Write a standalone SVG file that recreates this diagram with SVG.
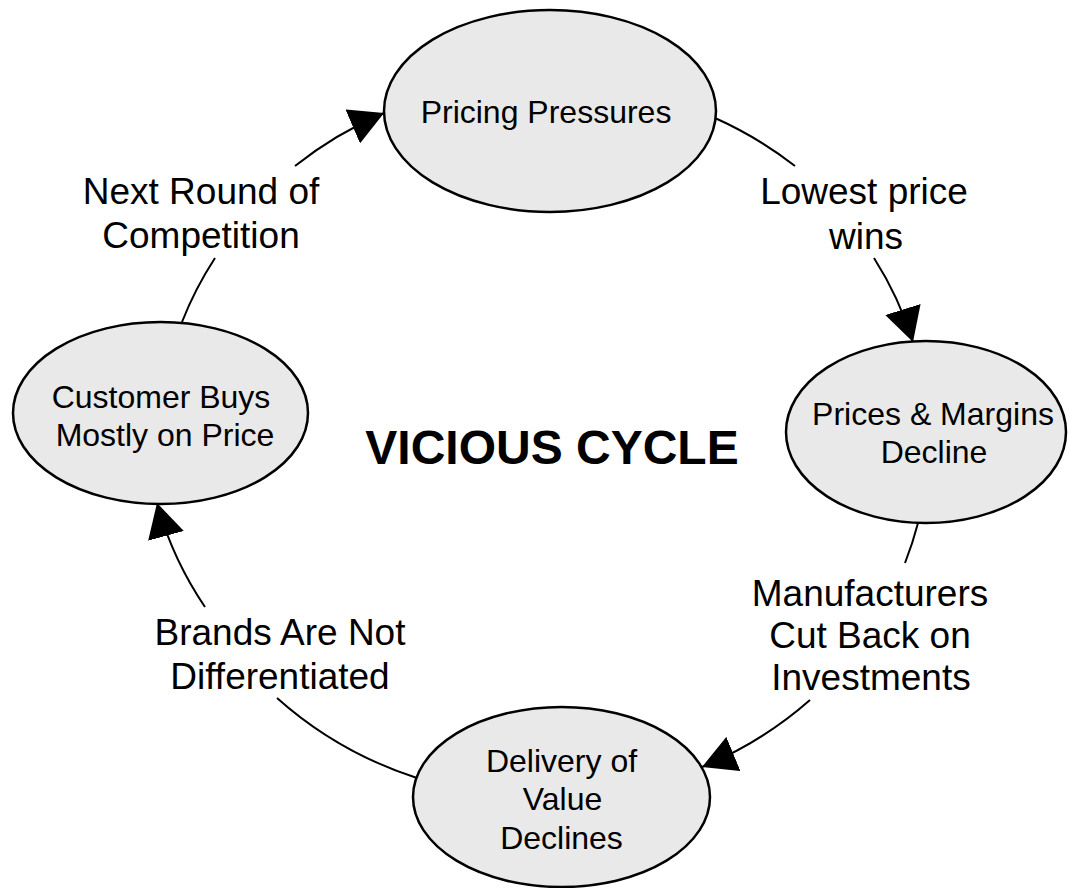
<svg xmlns="http://www.w3.org/2000/svg" width="1068" height="888" viewBox="0 0 1068 888">
<style>
.node ellipse { fill: #e9e9e9; stroke: #000; stroke-width: 2.5; }
.nt { font-family: "Liberation Sans", Arial, sans-serif; font-size: 32px; fill: #000; text-anchor: middle; }
.et { font-family: "Liberation Sans", Arial, sans-serif; font-size: 37px; fill: #000; text-anchor: middle; }
.title { font-family: "Liberation Sans", Arial, sans-serif; font-size: 48px; font-weight: bold; fill: #000; text-anchor: middle; }
.conn { fill: none; stroke: #000; stroke-width: 2; marker-end: url(#arrow); }
</style>
<defs>
<marker id="arrow" viewBox="0 0 34 37" refX="34" refY="18.5" markerWidth="34" markerHeight="37" markerUnits="userSpaceOnUse" orient="auto">
<path d="M0,0 L34,18.5 L0,37 Z" fill="#000"/>
</marker>
</defs>
<rect width="1068" height="888" fill="#fff"/>
<g id="connectors">
<path class="conn" d="M182,322 A385,362 0 0 1 215,258 M295,166 A385,362 0 0 1 384,113"/>
<path class="conn" d="M715,118 A385,362 0 0 1 795,166 M874,258 A385,362 0 0 1 913,342"/>
<path class="conn" d="M918,523 A385,362 0 0 1 905,563 M810,700 A385,362 0 0 1 702,767"/>
<path class="conn" d="M417,778 A385,362 0 0 1 277,698 M205,607 A385,362 0 0 1 157,503"/>
</g>
<g id="labels">
<text class="et" x="201" y="204">Next Round of</text>
<text class="et" x="201" y="248">Competition</text>
<text class="et" x="864" y="204">Lowest price</text>
<text class="et" x="866" y="249">wins</text>
<text class="et" x="870" y="606">Manufacturers</text>
<text class="et" x="870" y="648">Cut Back on</text>
<text class="et" x="871" y="690">Investments</text>
<text class="et" x="280" y="645">Brands Are Not</text>
<text class="et" x="280" y="689">Differentiated</text>
</g>
<g id="node-pricing-pressures" class="node">
<ellipse cx="550" cy="111" rx="166" ry="101"/>
<text class="nt" x="546" y="123">Pricing Pressures</text>
</g>
<g id="node-prices-margins" class="node">
<ellipse cx="926" cy="432" rx="140" ry="91"/>
<text class="nt" x="933" y="425">Prices &amp; Margins</text>
<text class="nt" x="934" y="463">Decline</text>
</g>
<g id="node-delivery" class="node">
<ellipse cx="561.5" cy="797" rx="148.5" ry="90"/>
<text class="nt" x="561.5" y="772">Delivery of</text>
<text class="nt" x="562.5" y="810">Value</text>
<text class="nt" x="561.5" y="849">Declines</text>
</g>
<g id="node-customer" class="node">
<ellipse cx="160.5" cy="413" rx="147.5" ry="91"/>
<text class="nt" x="161" y="408">Customer Buys</text>
<text class="nt" x="165" y="446">Mostly on Price</text>
</g>
<g id="title">
<text class="title" x="552" y="464">VICIOUS CYCLE</text>
</g>
</svg>
